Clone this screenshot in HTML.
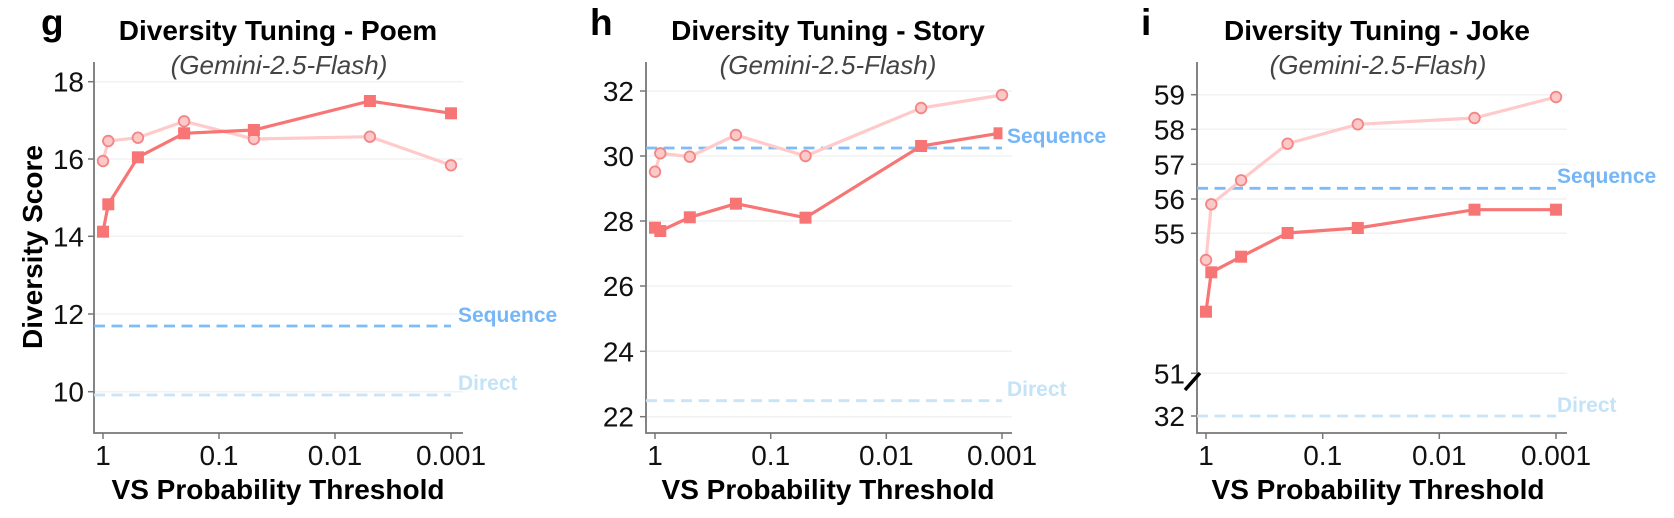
<!DOCTYPE html>
<html><head><meta charset="utf-8"><style>
html,body{margin:0;padding:0;background:#fff;}
svg{display:block;font-family:"Liberation Sans",Arial,sans-serif;}
.t{font-size:28px;font-weight:bold;text-anchor:middle;fill:#000}
.s{font-size:26px;font-style:italic;text-anchor:middle;fill:#444}
.tk{font-size:28px;fill:#111}
.xl{font-size:28px;font-weight:bold;text-anchor:middle;fill:#000}
.lt{font-size:37px;font-weight:bold;fill:#000}
.seq{font-size:21px;font-weight:bold;fill:#74b6f7}
.dir{font-size:21px;font-weight:bold;fill:#c4e3f7}
.g{stroke:#f2f2f2;stroke-width:1.5}
.ax{stroke:#777;stroke-width:1.8;fill:none}
.dk{fill:none;stroke:#f87575;stroke-width:3.2}
.lg{fill:none;stroke:#ffcaca;stroke-width:3.2}
.sq{fill:#f87575;stroke:#f87575}
.ci{fill:#fdc8c8;stroke:#f48585;stroke-width:1.8}
.sl{stroke:#7fbcf7;stroke-width:2.8;stroke-dasharray:11 6.5}
.dl{stroke:#c8e4f6;stroke-width:2.8;stroke-dasharray:11 6.5}
</style></head><body>
<svg width="1674" height="518" viewBox="0 0 1674 518" xmlns="http://www.w3.org/2000/svg">

<!-- Panel g -->
<text class="lt" x="41" y="35">g</text>
<text class="t" x="278" y="40">Diversity Tuning - Poem</text>
<text class="s" x="279" y="74">(Gemini-2.5-Flash)</text>
<line class="g" x1="94" y1="81.7" x2="463" y2="81.7"/>
<line class="g" x1="94" y1="159" x2="463" y2="159"/>
<line class="g" x1="94" y1="236.3" x2="463" y2="236.3"/>
<line class="g" x1="94" y1="314" x2="463" y2="314"/>
<line class="g" x1="94" y1="391.7" x2="463" y2="391.7"/>
<path class="ax" d="M94 62 V433 H463"/>
<g stroke="#777" stroke-width="1.5">
<line x1="88" y1="81.7" x2="94" y2="81.7"/><line x1="88" y1="159" x2="94" y2="159"/><line x1="88" y1="236.3" x2="94" y2="236.3"/><line x1="88" y1="314" x2="94" y2="314"/><line x1="88" y1="391.7" x2="94" y2="391.7"/>
<line x1="103" y1="433" x2="103" y2="439"/><line x1="219" y1="433" x2="219" y2="439"/><line x1="335" y1="433" x2="335" y2="439"/><line x1="451" y1="433" x2="451" y2="439"/>
</g>
<g class="tk" text-anchor="end">
<text x="84" y="91.7">18</text><text x="84" y="169">16</text><text x="84" y="246.3">14</text><text x="84" y="324">12</text><text x="84" y="401.7">10</text>
</g>
<g class="tk" text-anchor="middle">
<text x="103" y="465">1</text><text x="219" y="465">0.1</text><text x="335" y="465">0.01</text><text x="451" y="465">0.001</text>
</g>
<text class="xl" x="278" y="499">VS Probability Threshold</text>
<text class="xl" transform="translate(42 247) rotate(-90)">Diversity Score</text>
<line class="sl" x1="94" y1="326" x2="451" y2="326"/>
<line class="dl" x1="94" y1="395" x2="451" y2="395"/>
<text class="seq" x="458" y="322">Sequence</text>
<text class="dir" x="458" y="390">Direct</text>
<polyline class="lg" points="103,161 108.3,141 137.9,137.7 184.1,121.3 253.9,139 369.9,136.7 451,165.3"/>
<g class="ci"><circle cx="103" cy="161" r="5.3"/><circle cx="108.3" cy="141" r="5.3"/><circle cx="137.9" cy="137.7" r="5.3"/><circle cx="184.1" cy="121.3" r="5.3"/><circle cx="253.9" cy="139" r="5.3"/><circle cx="369.9" cy="136.7" r="5.3"/><circle cx="451" cy="165.3" r="5.3"/></g>
<polyline class="dk" points="103,231.7 108.3,204.3 137.9,157.3 184.1,133.3 253.9,130 369.9,101 451,113.3"/>
<g class="sq"><rect x="97.5" y="226.2" width="11" height="11"/><rect x="102.8" y="198.8" width="11" height="11"/><rect x="132.4" y="151.8" width="11" height="11"/><rect x="178.6" y="127.8" width="11" height="11"/><rect x="248.4" y="124.5" width="11" height="11"/><rect x="364.4" y="95.5" width="11" height="11"/><rect x="445.5" y="107.8" width="11" height="11"/></g>

<!-- Panel h -->
<text class="lt" x="590" y="35">h</text>
<text class="t" x="828" y="40">Diversity Tuning - Story</text>
<text class="s" x="828" y="74">(Gemini-2.5-Flash)</text>
<g class="g">
<line x1="646" y1="91" x2="1012" y2="91"/><line x1="646" y1="156" x2="1012" y2="156"/><line x1="646" y1="221" x2="1012" y2="221"/><line x1="646" y1="286" x2="1012" y2="286"/><line x1="646" y1="351.3" x2="1012" y2="351.3"/><line x1="646" y1="416.7" x2="1012" y2="416.7"/>
</g>
<path class="ax" d="M646 62 V433 H1012"/>
<g stroke="#777" stroke-width="1.5">
<line x1="640" y1="91" x2="646" y2="91"/><line x1="640" y1="156" x2="646" y2="156"/><line x1="640" y1="221" x2="646" y2="221"/><line x1="640" y1="286" x2="646" y2="286"/><line x1="640" y1="351.3" x2="646" y2="351.3"/><line x1="640" y1="416.7" x2="646" y2="416.7"/>
<line x1="655" y1="433" x2="655" y2="439"/><line x1="770.7" y1="433" x2="770.7" y2="439"/><line x1="886.3" y1="433" x2="886.3" y2="439"/><line x1="1002" y1="433" x2="1002" y2="439"/>
</g>
<g class="tk" text-anchor="end">
<text x="634" y="101">32</text><text x="634" y="166">30</text><text x="634" y="231">28</text><text x="634" y="296">26</text><text x="634" y="361.3">24</text><text x="634" y="426.7">22</text>
</g>
<g class="tk" text-anchor="middle">
<text x="655" y="465">1</text><text x="770.7" y="465">0.1</text><text x="886.3" y="465">0.01</text><text x="1002" y="465">0.001</text>
</g>
<text class="xl" x="828" y="499">VS Probability Threshold</text>
<line class="sl" x1="646" y1="148" x2="1002" y2="148"/>
<line class="dl" x1="646" y1="400.7" x2="1002" y2="400.7"/>
<text class="seq" x="1007" y="143">Sequence</text>
<text class="dir" x="1007" y="396">Direct</text>
<polyline class="lg" points="655,171.7 660.3,153.3 689.8,156.7 735.9,135 805.5,156 921.1,108 1002,95"/>
<g class="ci"><circle cx="655" cy="171.7" r="5.3"/><circle cx="660.3" cy="153.3" r="5.3"/><circle cx="689.8" cy="156.7" r="5.3"/><circle cx="735.9" cy="135" r="5.3"/><circle cx="805.5" cy="156" r="5.3"/><circle cx="921.1" cy="108" r="5.3"/><circle cx="1002" cy="95" r="5.3"/></g>
<polyline class="dk" points="655,227.7 660.3,231 689.8,217.3 735.9,203.7 805.5,217.7 921.1,146 999,133.3"/>
<g class="sq"><rect x="649.5" y="222.2" width="11" height="11"/><rect x="654.8" y="225.5" width="11" height="11"/><rect x="684.3" y="211.8" width="11" height="11"/><rect x="730.4" y="198.2" width="11" height="11"/><rect x="800" y="212.2" width="11" height="11"/><rect x="915.6" y="140.5" width="11" height="11"/><rect x="994" y="127.8" width="8" height="11"/></g>

<!-- Panel i -->
<text class="lt" x="1141" y="35">i</text>
<text class="t" x="1377" y="40">Diversity Tuning - Joke</text>
<text class="s" x="1378" y="74">(Gemini-2.5-Flash)</text>
<g class="g">
<line x1="1197" y1="94.7" x2="1567" y2="94.7"/><line x1="1197" y1="129.3" x2="1567" y2="129.3"/><line x1="1197" y1="164.3" x2="1567" y2="164.3"/><line x1="1197" y1="199" x2="1567" y2="199"/><line x1="1197" y1="233.3" x2="1567" y2="233.3"/><line x1="1197" y1="373.3" x2="1567" y2="373.3"/>
</g>
<path class="ax" d="M1197 62 V433 H1567"/>
<g stroke="#777" stroke-width="1.5">
<line x1="1191" y1="94.7" x2="1197" y2="94.7"/><line x1="1191" y1="129.3" x2="1197" y2="129.3"/><line x1="1191" y1="164.3" x2="1197" y2="164.3"/><line x1="1191" y1="199" x2="1197" y2="199"/><line x1="1191" y1="233.3" x2="1197" y2="233.3"/><line x1="1191" y1="373.3" x2="1197" y2="373.3"/><line x1="1191" y1="416" x2="1197" y2="416"/>
<line x1="1206" y1="433" x2="1206" y2="439"/><line x1="1322.7" y1="433" x2="1322.7" y2="439"/><line x1="1439.3" y1="433" x2="1439.3" y2="439"/><line x1="1556" y1="433" x2="1556" y2="439"/>
</g>
<line x1="1185" y1="390" x2="1200" y2="373" stroke="#000" stroke-width="3.5"/>
<g class="tk" text-anchor="end">
<text x="1185" y="104.7">59</text><text x="1185" y="139.3">58</text><text x="1185" y="174.3">57</text><text x="1185" y="209">56</text><text x="1185" y="243.3">55</text><text x="1185" y="383.3">51</text><text x="1185" y="426">32</text>
</g>
<g class="tk" text-anchor="middle">
<text x="1206" y="465">1</text><text x="1322.7" y="465">0.1</text><text x="1439.3" y="465">0.01</text><text x="1556" y="465">0.001</text>
</g>
<text class="xl" x="1378" y="499">VS Probability Threshold</text>
<line class="sl" x1="1197" y1="188.3" x2="1556" y2="188.3"/>
<line class="dl" x1="1197" y1="416" x2="1556" y2="416"/>
<text class="seq" x="1557" y="183">Sequence</text>
<text class="dir" x="1557" y="412">Direct</text>
<polyline class="lg" points="1206,260 1211.3,204.3 1241.1,180.3 1287.6,143.7 1357.8,124.3 1474.5,118 1556,97"/>
<g class="ci"><circle cx="1206" cy="260" r="5.3"/><circle cx="1211.3" cy="204.3" r="5.3"/><circle cx="1241.1" cy="180.3" r="5.3"/><circle cx="1287.6" cy="143.7" r="5.3"/><circle cx="1357.8" cy="124.3" r="5.3"/><circle cx="1474.5" cy="118" r="5.3"/><circle cx="1556" cy="97" r="5.3"/></g>
<polyline class="dk" points="1206,311.7 1211.3,272.3 1241.1,256.7 1287.6,233 1357.8,228 1474.5,209.7 1556,209.7"/>
<g class="sq"><rect x="1200.5" y="306.2" width="11" height="11"/><rect x="1205.8" y="266.8" width="11" height="11"/><rect x="1235.6" y="251.2" width="11" height="11"/><rect x="1282.1" y="227.5" width="11" height="11"/><rect x="1352.3" y="222.5" width="11" height="11"/><rect x="1469" y="204.2" width="11" height="11"/><rect x="1550.5" y="204.2" width="11" height="11"/></g>
</svg>
</body></html>
